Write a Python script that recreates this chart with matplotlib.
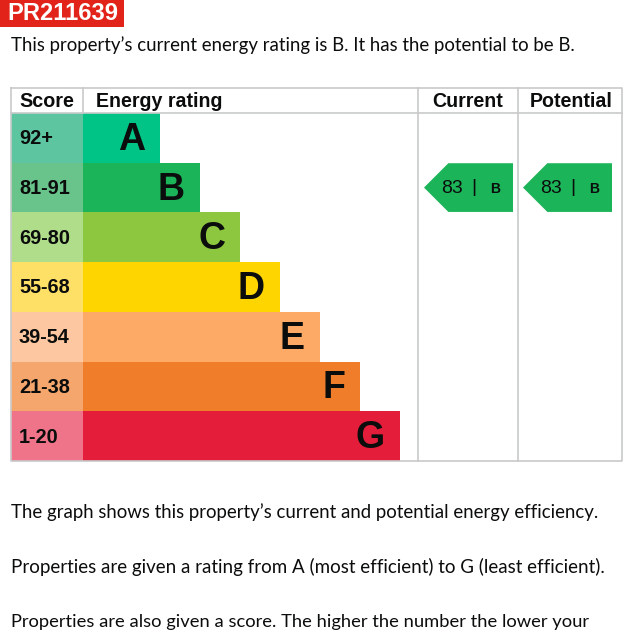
import matplotlib
matplotlib.use("Agg")
import matplotlib.pyplot as plt
from matplotlib.patches import Rectangle, Polygon

# ---- data ----
ref_code = "PR211639"
bands = ["A", "B", "C", "D", "E", "F", "G"]
score_ranges = ["92+", "81-91", "69-80", "55-68", "39-54", "21-38", "1-20"]
band_colors = ["#00c486", "#1cb459", "#8dc63f", "#ffd500", "#fcaa65", "#ef7d2a", "#e41d3a"]
score_colors = ["#5dc6a1", "#68c48b", "#b0dd8a", "#ffe066", "#fdc8a1", "#f4a66c", "#f07489"]
current_score, current_band = 83, "B"
potential_score, potential_band = 83, "B"
headers = ["Score", "Energy rating", "Current", "Potential"]
intro = "This property\u2019s current energy rating is B. It has the potential to be B."
notes = [
    "The graph shows this property\u2019s current and potential energy efficiency.",
    "Properties are given a rating from A (most efficient) to G (least efficient).",
    "Properties are also given a score. The higher the number the lower your",
]

W, H = 630, 640
fig = plt.figure(figsize=(W / 100, H / 100), dpi=100)
ax = fig.add_axes([0, 0, 1, 1])
ax.set_xlim(0, W)
ax.set_ylim(H, 0)
ax.axis("off")
fig.canvas.draw()
renderer = fig.canvas.get_renderer()


def fit_text(x, y, s, width, size=12, **kw):
    t = ax.text(x, y, s, fontsize=size, **kw)
    bb = t.get_window_extent(renderer=renderer)
    if bb.width > 0:
        t.set_fontsize(size * width / bb.width)
    return t


body_font = ["Lato", "DejaVu Sans"]
head_font = ["Liberation Sans", "DejaVu Sans"]
ink = "#0b0c0c"

# reference badge
ax.add_patch(Rectangle((0, 0), 124, 27, color="#e2231a", lw=0))
fit_text(7, 14, ref_code, 111, family=head_font, weight="bold", color="white",
         va="center", ha="left")

fit_text(11, 45, intro, 561, family=body_font, color=ink, va="center")

# table geometry
top, head_bot, bot = 88, 113, 461
x0, x_bar, x_cur, x_pot, x1 = 11, 83, 418, 518, 622
row_h = (bot - head_bot) / len(bands)
grid = "#c8c9ca"

# rows
for i, (b, sr, bc, sc) in enumerate(zip(bands, score_ranges, band_colors, score_colors)):
    y = head_bot + i * row_h
    ax.add_patch(Rectangle((x0, y), x_bar - x0, row_h, color=sc, lw=0))
    bar_end = 120 + 40 * (i + 1)
    ax.add_patch(Rectangle((x_bar, y), bar_end - x_bar, row_h, color=bc, lw=0))
    ax.text(19, y + row_h / 2 + 1, sr, family=head_font, weight="bold", fontsize=14.3,
            color=ink, va="center", ha="left")
    ax.text(bar_end - 15, y + row_h / 2 + 2, b, family=head_font, weight="bold",
            fontsize=27, color=ink, va="center", ha="right")

# grid lines
ax.plot([x0, x1, x1, x0, x0], [top, top, bot, bot, top], color=grid, lw=1.2)
ax.plot([x0, x1], [head_bot, head_bot], color=grid, lw=1.2)
for xv in (x_cur, x_pot):
    ax.plot([xv, xv], [top, bot], color=grid, lw=1.2)
ax.plot([x_bar, x_bar], [top, head_bot], color=grid, lw=1.2)

# headers
hy = 101.5
fit_text(19, hy, headers[0], 55, size=14, family=head_font, weight="bold", color=ink, va="center")
fit_text(95.5, hy, headers[1], 127, size=14, family=head_font, weight="bold", color=ink, va="center")
fit_text(432, hy, headers[2], 71, size=14, family=head_font, weight="bold", color=ink, va="center")
fit_text(530, hy, headers[3], 83, size=14, family=head_font, weight="bold", color=ink, va="center")


def tag(xl, xr, band, score):
    i = bands.index(band)
    y = head_bot + i * row_h
    yt, yb = y + 0.5, y + row_h - 0.5
    ym = (yt + yb) / 2
    shoulder = xl + (yb - yt) / 2
    ax.add_patch(Polygon([(xl, ym), (shoulder, yt), (xr, yt), (xr, yb), (shoulder, yb)],
                         closed=True, color=band_colors[i], lw=0))
    ax.text(xl + 17, ym + 1, f"{score}", family=head_font, fontsize=14, color=ink,
            va="center", ha="left")
    ax.text(xl + 47, ym, "|", family=head_font, fontsize=14, color=ink,
            va="center", ha="left")
    ax.text(xl + 66, ym + 1, band, family=head_font, weight="bold", fontsize=10,
            color=ink, va="center", ha="left")


tag(424, 513, current_band, current_score)
tag(523, 612, potential_band, potential_score)

# notes
fit_text(11, 512, notes[0], 587, family=body_font, color=ink, va="center")
fit_text(11, 567, notes[1], 592, family=body_font, color=ink, va="center")
fit_text(11, 622, notes[2], 578, family=body_font, color=ink, va="center")

fig.savefig("out.png", dpi=100)
